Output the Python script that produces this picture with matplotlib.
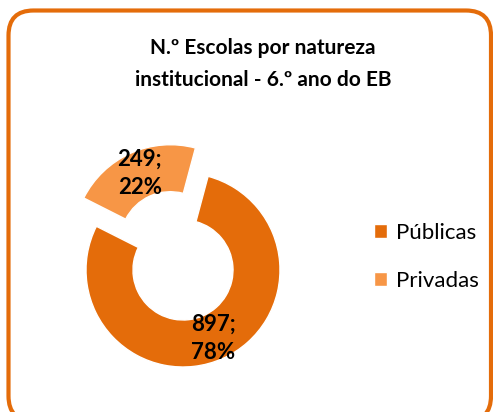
import matplotlib.pyplot as plt
from matplotlib.patches import FancyBboxPatch

categories = ["Públicas", "Privadas"]
values = [897, 249]
colors = ["#E46C0A", "#F79646"]
title = "N.º Escolas por natureza\ninstitucional - 6.º ano do EB"

W, H = 493, 412
fig = plt.figure(figsize=(W / 100, H / 100), dpi=100)
plt.rcParams['font.family'] = ['Lato', 'DejaVu Sans']

# axes in pixel coordinates (y up)
ax = fig.add_axes([0, 0, 1, 1])

total = sum(values)


def fmt(pct):
    v = int(round(pct * total / 100))
    return f"{v};\n{pct:.0f}%"


# explode is in data units (pixels here)
wedges, texts, autotexts = ax.pie(
    values, colors=colors, startangle=75, counterclock=False,
    center=(183, H - 270), radius=97, explode=[0, 31],
    autopct=fmt, pctdistance=0.77,
    wedgeprops=dict(width=47, edgecolor='white', linewidth=1),
    textprops=dict(fontsize=16, fontweight='bold', color='black',
                   linespacing=1.45))
for t in autotexts:
    t.set_ha('center')
    t.set_va('center')

# pie resets the limits, so set them afterwards
ax.set_xlim(0, W)
ax.set_ylim(0, H)
ax.set_aspect('equal')
ax.axis('off')

fig.text(263 / W, 1 - 64 / H, title, ha='center', va='center',
         fontsize=15, fontweight='bold', linespacing=1.75)

leg = fig.legend(wedges, categories, loc='center left',
                 bbox_to_anchor=(354 / W, 1 - 257 / H), frameon=False,
                 fontsize=16, handlelength=0.6, handleheight=0.6,
                 handletextpad=0.4, labelspacing=1.25)

# rounded orange frame, bottom edge runs past the image
border = FancyBboxPatch((8.5, -9), 482.5, 410.5,
                        boxstyle="round,pad=0,rounding_size=25",
                        facecolor='none', edgecolor='#E46C0A',
                        linewidth=3, clip_on=False)
ax.add_patch(border)

fig.savefig("out.png", dpi=100)
